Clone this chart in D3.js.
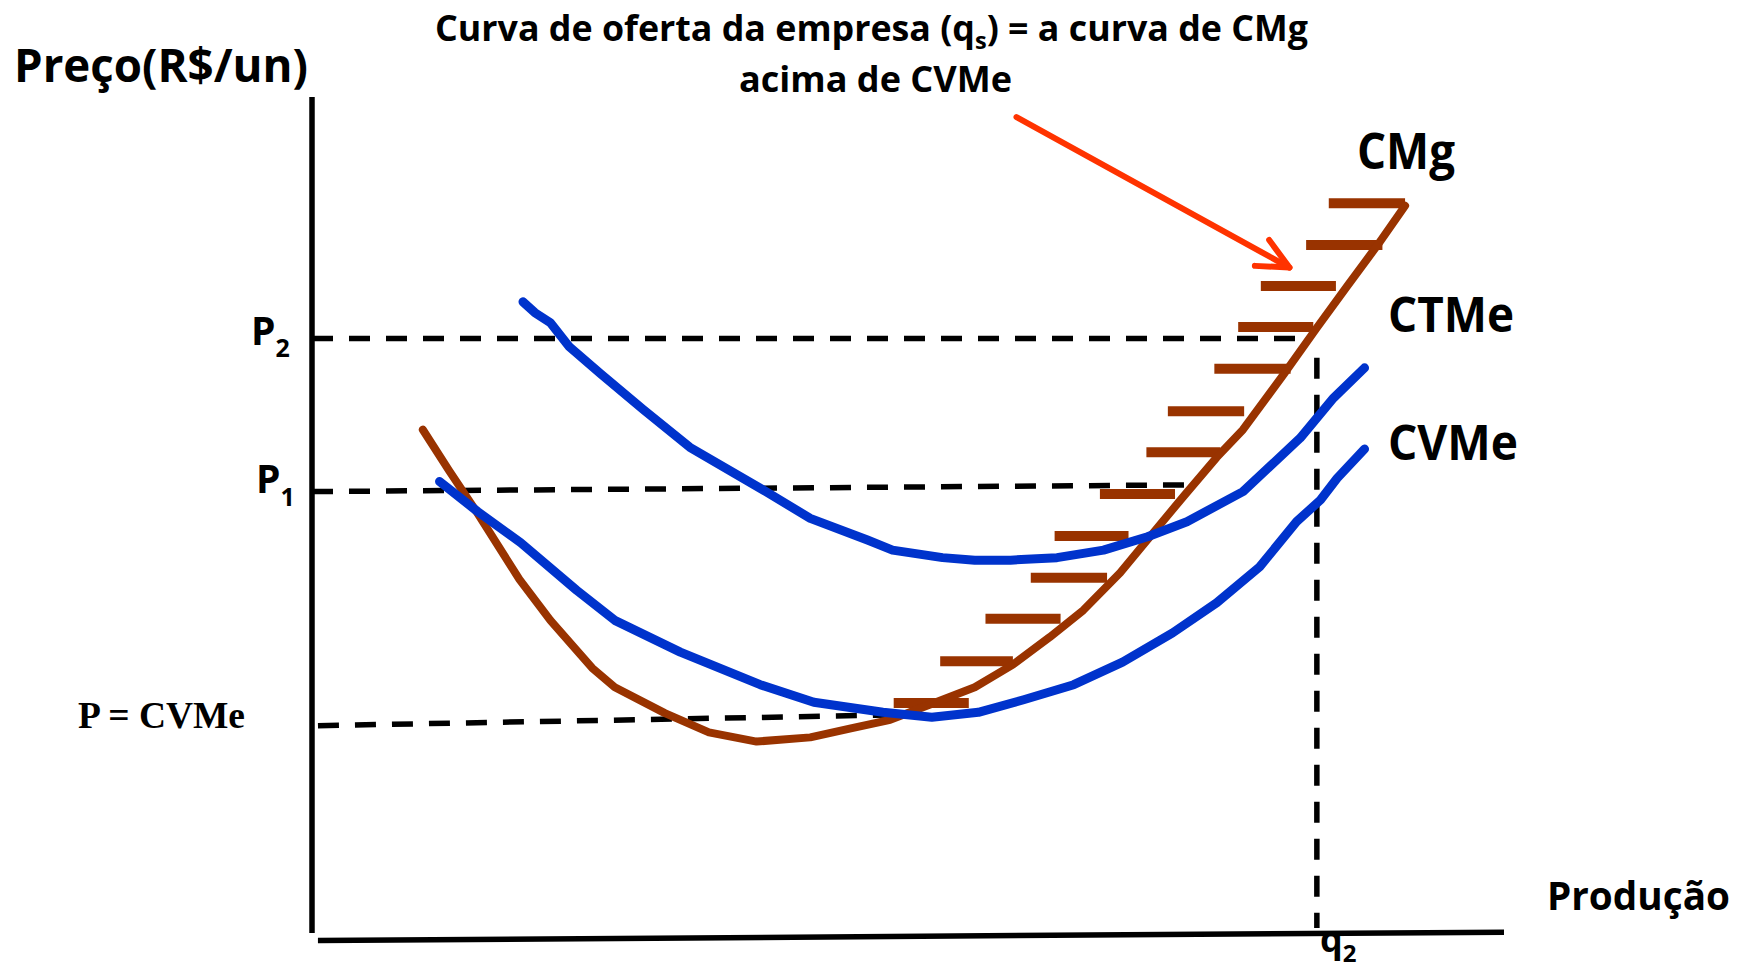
<!DOCTYPE html>
<html>
<head>
<meta charset="utf-8">
<script src="https://cdn.jsdelivr.net/npm/d3@7"></script>
<style>
  body { margin: 0; background: #fff; }
  svg { display: block; }
</style>
</head>
<body>
<div class="d3Graph"></div>
<script>
// all values, quantity and price both on a 0..100 scale
var cmg = [[9.3,60.2],[11.5,55.3],[13.8,50.4],[17.4,42.3],[20.0,37.4],[23.5,31.7],[25.4,29.4],
           [29.6,26.3],[33.3,24.0],[37.3,22.9],[41.8,23.4],[45.3,24.5],[48.5,25.5],[51.8,27.3],
           [55.6,29.4],[58.8,32.1],[61.9,35.4],[64.7,38.6],[67.8,43.1],[70.3,47.4],[73.1,52.2],
           [75.9,56.9],[78.1,60.2],[81.5,66.8],[84.3,72.4],[86.8,77.3],[89.4,82.3],[91.7,87.0]];

var ctme = [[17.7,75.5],[18.7,74.2],[20.0,73.0],[21.6,70.1],[24.2,66.9],[27.8,62.6],[31.7,58.1],
            [37.6,53.2],[41.8,49.6],[46.6,47.0],[48.7,45.8],[52.9,44.9],[55.6,44.6],[58.6,44.6],
            [62.5,44.9],[66.4,45.8],[70.1,47.4],[73.4,49.2],[78.1,52.8],[82.9,59.2],[85.7,64.0],
            [88.3,67.6]];

var cvme = [[10.7,54.0],[13.9,50.4],[17.5,46.7],[22.2,41.0],[25.4,37.4],[30.9,33.6],[37.6,29.7],
            [42.1,27.6],[47.9,26.4],[52.0,25.8],[55.9,26.4],[59.7,27.9],[63.9,29.7],[68.0,32.4],
            [72.2,35.9],[75.9,39.5],[79.5,43.8],[82.6,49.2],[84.6,51.8],[86.0,54.4],[88.3,57.9]];

// supply curve hatching: price level, start and end quantity of each bar
var hatchP    = [87.3, 82.3, 77.4, 72.5, 67.5, 62.4, 57.5, 52.5, 47.5, 42.5, 37.6, 32.5, 27.5];
var hatchFrom = [85.3, 83.4, 79.6, 77.7, 75.7, 71.8, 70.0, 66.1, 62.3, 60.3, 56.5, 52.7, 48.8];
var hatchTo   = [91.7, 89.8, 85.9, 84.0, 82.1, 78.2, 76.2, 72.4, 68.5, 66.7, 62.8, 58.8, 55.1];

// dashed guide lines
var p2Guide = [[0, 71.1], [83.6, 71.1]];
var p1Guide = [[0, 52.8], [73.3, 53.6]];
var pcvGuide = [[0.5, 24.8], [49.3, 26.1]];
var q2Guide = [[84.3, 68.8], [84.3, 0.6]];

// axes
var yAxisLine = [[0, 0], [0, 100]];
var xAxisLine = [[0.5, -0.9], [100, 0.1]];

// red arrow
var arrowLine = [[59.1, 97.6], [82.0, 79.6]];
var arrowHead = [[80.3, 82.9], [82.0, 79.6], [79.1, 79.8]];

var W = 1738, H = 972;
var sansBold = "'Open Sans', 'Noto Sans', sans-serif";

var x = d3.scaleLinear().domain([0, 100]).range([312, 1504]);
var y = d3.scaleLinear().domain([0, 100]).range([933, 97]);

var line = d3.line()
    .x(function(d) { return x(d[0]); })
    .y(function(d) { return y(d[1]); });

var svg = d3.select(".d3Graph")
    .append("svg")
    .attr("width", W)
    .attr("height", H);

// axes
[yAxisLine, xAxisLine].forEach(function(a) {
    svg.append("path")
        .attr("d", line(a))
        .attr("stroke", "#000")
        .attr("stroke-width", 5.5)
        .attr("fill", "none");
});

// dashed guides
[p2Guide, p1Guide, pcvGuide, q2Guide].forEach(function(g) {
    svg.append("path")
        .attr("d", line(g))
        .attr("stroke", "#000")
        .attr("stroke-width", 5.5)
        .attr("stroke-dasharray", "21,16")
        .attr("fill", "none");
});

// hatch bars
svg.selectAll(".hatch")
    .data(hatchP)
    .enter()
    .append("line")
    .attr("class", "hatch")
    .attr("x1", function(d, i) { return x(hatchFrom[i]); })
    .attr("x2", function(d, i) { return x(hatchTo[i]); })
    .attr("y1", function(d) { return y(d); })
    .attr("y2", function(d) { return y(d); })
    .attr("stroke", "#993300")
    .attr("stroke-width", 10);

// cost curves
svg.append("path")
    .attr("d", line(cmg))
    .attr("stroke", "#993300")
    .attr("stroke-width", 8)
    .attr("stroke-linecap", "round")
    .attr("stroke-linejoin", "round")
    .attr("fill", "none");

[ctme, cvme].forEach(function(c) {
    svg.append("path")
        .attr("d", line(c))
        .attr("stroke", "#0033CC")
        .attr("stroke-width", 9)
        .attr("stroke-linecap", "round")
        .attr("stroke-linejoin", "round")
        .attr("fill", "none");
});

// arrow
[arrowLine, arrowHead].forEach(function(a) {
    svg.append("path")
        .attr("d", line(a))
        .attr("stroke", "#FF3300")
        .attr("stroke-width", 6)
        .attr("stroke-linecap", "round")
        .attr("stroke-linejoin", "round")
        .attr("fill", "none");
});

// labels
function label(txt, px, py, size, len, fam) {
    var t = svg.append("text")
        .attr("x", px)
        .attr("y", py)
        .attr("font-family", fam || sansBold)
        .attr("font-weight", "bold")
        .attr("font-size", size)
        .attr("fill", "#000")
        .text(txt);
    if (len) t.attr("textLength", len).attr("lengthAdjust", "spacingAndGlyphs");
    return t;
}

function subLabel(main, sub, px, py, size, subSize, subDy) {
    var t = svg.append("text")
        .attr("x", px)
        .attr("y", py)
        .attr("font-family", sansBold)
        .attr("font-weight", "bold")
        .attr("font-size", size)
        .attr("fill", "#000");
    t.append("tspan").text(main);
    t.append("tspan").attr("font-size", subSize).attr("dy", subDy).text(sub);
    return t;
}

label("Preço(R$/un)", 14, 82, 46, 294);

var title = svg.append("text")
    .attr("x", 435)
    .attr("y", 41)
    .attr("font-family", sansBold)
    .attr("font-weight", "bold")
    .attr("font-size", 35)
    .attr("fill", "#000")
    .attr("textLength", 873)
    .attr("lengthAdjust", "spacingAndGlyphs");
title.append("tspan").text("Curva de oferta da empresa (q");
title.append("tspan").attr("font-size", 23).attr("dy", 8).text("s");
title.append("tspan").attr("dy", -8).text(") = a curva de CMg");

label("acima de CVMe", 739, 92, 35, 273);

label("CMg", 1357, 169, 50, 98);
label("CTMe", 1388, 332, 49, 126);
label("CVMe", 1388, 460, 49, 130);

subLabel("P", "2", 251, 345, 39, 25, 12);
subLabel("P", "1", 256, 493, 39, 25, 13);
subLabel("q", "2", 1320, 952, 36, 24, 10);

label("P = CVMe", 78, 728, 37, 167, "'Liberation Serif', 'Times New Roman', serif");
label("Produção", 1547, 910, 39, 183);
</script>
</body>
</html>
